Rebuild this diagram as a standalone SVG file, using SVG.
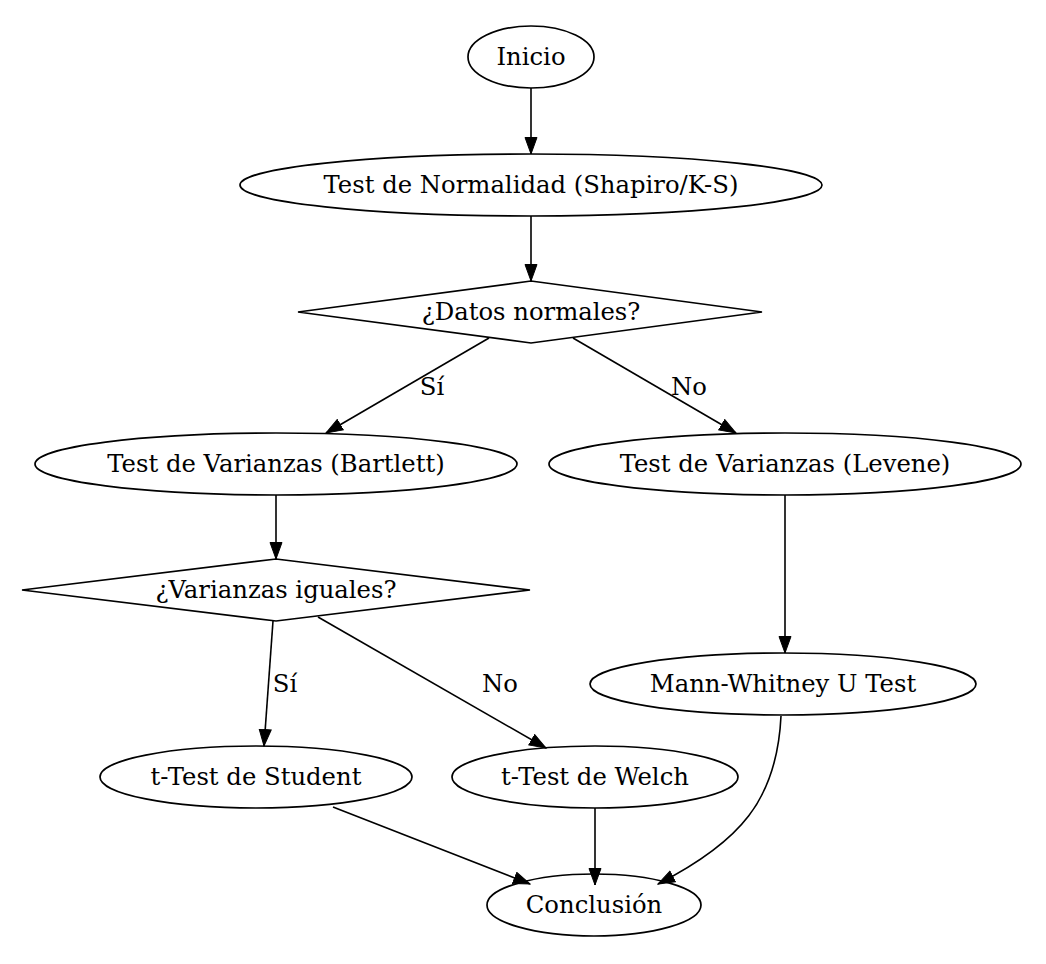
<svg xmlns="http://www.w3.org/2000/svg" width="1046" height="964" viewBox="0 0 1046 964">
<style>
.n{fill:none;stroke:#000;stroke-width:1.7}
.t{font-family:"DejaVu Serif","Liberation Serif",serif;font-size:24.3px;text-anchor:middle;fill:#000}
.e{fill:none;stroke:#000;stroke-width:1.6;marker-end:url(#ah)}
</style>
<defs>
<marker id="ah" markerUnits="userSpaceOnUse" markerWidth="18" markerHeight="14" refX="17" refY="7" orient="auto" viewBox="0 0 18 14">
<path d="M0.5,1 L17,7 L0.5,13 Z" fill="#000" stroke="#000" stroke-width="1"/>
</marker>
</defs>
<rect width="1046" height="964" fill="#fff"/>
<g id="connectors">
<path class="e" d="M531,88 L531,154"/>
<path class="e" d="M531,216 L531,281"/>
<path class="e" d="M489,338 L326,433"/>
<path class="e" d="M573,338 L736,433"/>
<path class="e" d="M276,495 L276,559"/>
<path class="e" d="M785,495 L785,653"/>
<path class="e" d="M273,621 L264,746"/>
<path class="e" d="M318,617 L546,748"/>
<path class="e" d="M333,807 L530,884"/>
<path class="e" d="M595,808 L595,885"/>
<path class="e" d="M781,716 C777,800 740,842 658,884"/>
<text class="t" x="432" y="395">Sí</text>
<text class="t" x="689" y="395">No</text>
<text class="t" x="285" y="692">Sí</text>
<text class="t" x="500" y="692">No</text>
</g>
<g id="inicio"><ellipse class="n" cx="531" cy="57" rx="63" ry="31"/><text class="t" x="531" y="65">Inicio</text></g>
<g id="normalidad"><ellipse class="n" cx="531" cy="185" rx="291" ry="31"/><text class="t" x="531" y="193">Test de Normalidad (Shapiro/K-S)</text></g>
<g id="datos_normales"><polygon class="n" points="531,281 762,312 531,343 298,312"/><text class="t" x="531" y="320">¿Datos normales?</text></g>
<g id="bartlett"><ellipse class="n" cx="276" cy="464" rx="241" ry="31"/><text class="t" x="276" y="472">Test de Varianzas (Bartlett)</text></g>
<g id="levene"><ellipse class="n" cx="785" cy="464" rx="236" ry="31"/><text class="t" x="785" y="472">Test de Varianzas (Levene)</text></g>
<g id="varianzas_iguales"><polygon class="n" points="276,559 530,590 276,621 22,590"/><text class="t" x="276" y="598">¿Varianzas iguales?</text></g>
<g id="mann_whitney"><ellipse class="n" cx="783" cy="684" rx="193" ry="31"/><text class="t" x="783" y="692">Mann-Whitney U Test</text></g>
<g id="student"><ellipse class="n" cx="256" cy="777" rx="156" ry="31"/><text class="t" x="256" y="785">t-Test de Student</text></g>
<g id="welch"><ellipse class="n" cx="595" cy="777" rx="143" ry="31"/><text class="t" x="595" y="785">t-Test de Welch</text></g>
<g id="conclusion"><ellipse class="n" cx="594" cy="905" rx="107" ry="31"/><text class="t" x="594" y="913">Conclusión</text></g>
</svg>
